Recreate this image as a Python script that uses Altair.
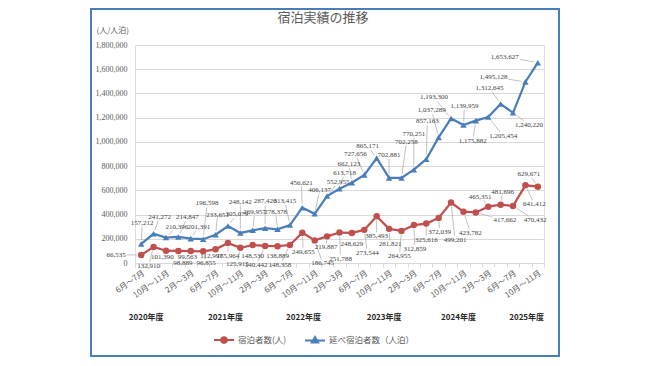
import json
import math
import altair as alt
import pandas as pd

# ---------------- data ----------------
periods = [
    "6月～7月", "8月～9月", "10月～11月", "12月～1月", "2月～3月",
    "4月～5月", "6月～7月", "8月～9月", "10月～11月", "12月～1月", "2月～3月",
    "4月～5月", "6月～7月", "8月～9月", "10月～11月", "12月～1月", "2月～3月",
    "4月～5月", "6月～7月", "8月～9月", "10月～11月", "12月～1月", "2月～3月",
    "4月～5月", "6月～7月", "8月～9月", "10月～11月", "12月～1月", "2月～3月",
    "4月～5月", "6月～7月", "8月～9月", "10月～11月",
]
guests = [66535, 132910, 101390, 99563, 98889, 96855, 112997, 165964, 125915,
          148530, 140442, 138889, 148358, 249655, 186745, 219887, 251788,
          248629, 273544, 385493, 281821, 264955, 312859, 325616, 372039,
          499201, 423782, 417662, 465351, 481696, 470432, 641412, 629671]
nights = [157212, 241272, 210396, 214847, 201391, 196598, 233651, 305079,
          248142, 269957, 287426, 278378, 313415, 456621, 406137, 552955,
          613718, 662123, 727656, 865171, 702881, 702258, 770251, 857163,
          1037289, 1193300, 1139959, 1175882, 1205454, 1312645, 1240220,
          1495128, 1653627]
fiscal_years = ["2020年度", "2021年度", "2022年度", "2023年度", "2024年度", "2025年度"]
series_names = ["宿泊者数(人)", "延べ宿泊者数（人泊）"]
y_ticks = [0, 200000, 400000, 600000, 800000, 1000000, 1200000, 1400000, 1600000, 1800000]

# ---------------- layout (label placement, not data) ----------------
W, H = 409, 218
N = len(periods)
YMAX = 1800000
XU = N / W          # x data units per px
YU = YMAX / H       # y data units per px
RED, BLUE = "#c0504d", "#4a7ebb"
SERIF = "Liberation Serif, Noto Sans CJK JP"
SANS = "Noto Sans CJK JP"

fy_anchor = [0.9, 7.3, 13.6, 20.1, 26.1, 31.6]
guest_off = [(-25, 0), (-5, 19), (-3.5, 6), (9, 6), (-8, 12), (3, 12), (-4, 7),
             (0, 13), (-3, 16), (0, 11), (-9, 19), (0, 10), (-10, 20), (1, 19),
             (8, 23), (-1, 11), (1, 26), (0, 11), (3, 23), (0, 20), (1, 15),
             (-2, 25), (1, 24), (0, 16), (1, 14), (4, 37), (7, 21), (29, 8),
             (-8, -10), (2, -13), (22, 14), (9, 19), (-9, -13)]
night_off = [(1, -21), (6, -17), (11, -11), (9, -20), (8, -12), (4, -36), (2, -20),
             (9, -12), (0, -31), (2, -18), (0, -27), (-2, -17), (-5, -24), (-1, -25),
             (5, -24), (11, -14), (5, -16), (-3, -19), (-9, -21), (-9, -12), (0, -23),
             (5, -36), (0, -36), (1, -38), (-7, -27), (-17, -21), (1, -19), (-3, 20),
             (15, 19), (-11, -16), (16, 12), (-32, -5), (-33, -6)]


def build(values, offs, name):
    pts, labs, leads = [], [], []
    for i, (v, (dx, dy)) in enumerate(zip(values, offs)):
        xc = i + 0.5
        text = f"{v:,}"
        pts.append({"series": name, "x": xc, "value": v})
        labs.append({"series": name, "lx": xc + dx * XU, "ly": v - dy * YU, "text": text})
        nd = sum(c.isdigit() for c in text)
        hw = (nd * 3.5 + (len(text) - nd) * 1.75) / 2 + 1
        hh = 4.0
        L = math.hypot(dx, dy)
        if L == 0:
            continue
        t = min(hw / abs(dx) if dx else 1e9, hh / abs(dy) if dy else 1e9)
        r = 4.0
        if (1 - t) * L - r > 3:
            sx, sy = dx * r / L, dy * r / L
            ex, ey = dx * (1 - t), dy * (1 - t)
            leads.append({"x1": xc + sx * XU, "y1": v - sy * YU,
                          "x2": xc + ex * XU, "y2": v - ey * YU})
    return pd.DataFrame(pts), pd.DataFrame(labs), pd.DataFrame(leads)


g_pts, g_lab, g_lead = build(guests, guest_off, series_names[0])
n_pts, n_lab, n_lead = build(nights, night_off, series_names[1])
all_pts = pd.concat([g_pts, n_pts], ignore_index=True)
labels = pd.concat([g_lab, n_lab], ignore_index=True)
leads = pd.concat([g_lead, n_lead], ignore_index=True)
fy_df = pd.DataFrame({"fy": fiscal_years, "x": fy_anchor})

x_scale = alt.Scale(domain=[0, N], nice=False, zero=False)
y_scale = alt.Scale(domain=[0, YMAX], nice=False)

label_expr = ("datum.value % 2 == 0 && datum.value < " + str(N) + " ? "
              + json.dumps(periods, ensure_ascii=False) + "[datum.value] : ''")

x_axis = alt.Axis(values=list(range(0, N + 1)), labelExpr=label_expr, title=None,
                  grid=False, labelAngle=325, labelOffset=6, labelPadding=2,
                  labelFont=SANS, labelFontSize=8, labelColor="#595959",
                  domainColor="#d9d9d9", tickColor="#d9d9d9", tickSize=4,
                  labelOverlap=False, labelBound=False, labelFlush=False)
y_axis = alt.Axis(values=y_ticks, format=",d", title="(人/人泊)", titleAngle=0,
                  titleX=-39, titleY=-15, titleAlign="left", titleBaseline="middle",
                  titleFont=SANS, titleFontSize=8, titleFontWeight="normal",
                  titleColor="#595959", labelFont=SERIF, labelFontSize=8,
                  labelColor="#595959", labelPadding=8, ticks=False, domain=False,
                  labelOverlap=False, labelFlush=False,
                  gridColor="#d9d9d9", gridWidth=1)


def X(field):
    return alt.X(field, scale=x_scale, axis=x_axis)


def Y(field):
    return alt.Y(field, scale=y_scale, axis=y_axis)


border = alt.Chart(pd.DataFrame({"a": [0]})).mark_rect(
    fill=None, stroke=BLUE, strokeWidth=2
).encode(x=alt.value(-44), x2=alt.value(424), y=alt.value(-36), y2=alt.value(311))

title = alt.Chart(pd.DataFrame({"t": ["宿泊実績の推移"]})).mark_text(
    font=SANS, fontSize=13, color="#595959", baseline="middle", align="center"
).encode(text="t:N", x=alt.value(188), y=alt.value(-27))


def series_layers(name, color, shape):
    src = alt.Chart(all_pts).transform_filter(alt.datum.series == name)
    line = src.mark_line(color=color, strokeWidth=2.25).encode(x=X("x:Q"), y=Y("value:Q"))
    pts = src.mark_point(shape=shape, filled=True, size=42, color=color, opacity=1).encode(
        x=X("x:Q"), y=Y("value:Q"))
    return line, pts


n_line, n_point = series_layers(series_names[1], BLUE, "triangle-up")
g_line, g_point = series_layers(series_names[0], RED, "circle")

lead_layer = alt.Chart(leads).mark_rule(color="#a6a6a6", strokeWidth=0.7).encode(
    x=X("x1:Q"), y=Y("y1:Q"), x2="x2:Q", y2="y2:Q")

label_layer = alt.Chart(labels).mark_text(
    font=SERIF, fontSize=7, color="#404040", baseline="middle", align="center"
).encode(x=X("lx:Q"), y=Y("ly:Q"), text="text:N")

fy_layer = alt.Chart(fy_df).mark_text(
    font=SANS, fontSize=8, fontWeight="bold", color="#262626", baseline="middle",
    align="center"
).encode(x=X("x:Q"), y=alt.value(273), text="fy:N")

circle_path = "M-1,0H1M0.28,0A0.28,0.28,0,1,1,-0.28,0A0.28,0.28,0,1,1,0.28,0Z"
tri_path = "M-1,0H1M0,-0.34L0.32,0.22L-0.32,0.22Z"
leg = alt.Legend(orient="none", legendX=78, legendY=284, direction="horizontal",
                 title=None, labelFont=SANS, labelFontSize=8.5, labelColor="#595959",
                 symbolSize=400, symbolStrokeWidth=2, symbolOpacity=1,
                 labelOffset=3, columnPadding=14)
col_scale = alt.Scale(domain=series_names, range=[RED, BLUE])
legend_layer = alt.Chart(all_pts).mark_point(opacity=0).encode(
    x=X("x:Q"), y=Y("value:Q"),
    color=alt.Color("series:N", scale=col_scale, legend=leg),
    fill=alt.Fill("series:N", scale=col_scale, legend=leg),
    shape=alt.Shape("series:N", scale=alt.Scale(domain=series_names,
                                                range=[circle_path, tri_path]),
                    legend=leg),
)

chart = alt.layer(
    border, title, lead_layer, n_line, g_line, n_point, g_point,
    label_layer, fy_layer, legend_layer
).properties(
    width=W, height=H,
    autosize=alt.AutoSizeParams(type="none"),
    padding={"left": 127, "top": 37, "right": 98, "bottom": 95},
).configure_view(stroke=None).configure(background="white")

chart.save("out.html", embed_options={"renderer": "svg", "actions": False})
